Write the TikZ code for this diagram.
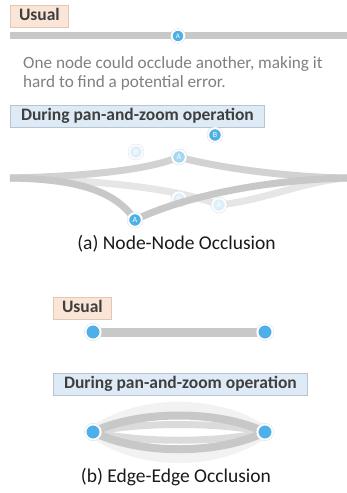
\documentclass[tikz,border=0pt]{standalone}
\usepackage{fontspec}
\setmainfont{Carlito}
\definecolor{usualfill}{HTML}{FBE5D6}
\definecolor{usualline}{HTML}{E3C7B6}
\definecolor{panfill}{HTML}{DEEBF7}
\definecolor{panline}{HTML}{B7C4D2}
\definecolor{titletext}{HTML}{3F3F3F}
\definecolor{notetext}{HTML}{7F7F7F}
\definecolor{captext}{HTML}{1A1A1A}
\definecolor{vertex}{HTML}{4EB0E9}
\definecolor{vertexhalf}{HTML}{A5D6F4}
\definecolor{vertexghost}{HTML}{DDEFFB}
\definecolor{linkdark}{HTML}{C8C8C8}
\definecolor{linkmid}{HTML}{D2D2D2}
\definecolor{linklight}{HTML}{E6E6E6}
\definecolor{linkfaint}{HTML}{F2F2F2}
\pgfdeclarelayer{ghostlinks}
\pgfdeclarelayer{ghostverts}
\pgfdeclarelayer{links}
\pgfsetlayers{ghostlinks,ghostverts,links,main}
\tikzset{
  tag/.style      = {rectangle, thick, anchor=north west, inner sep=0pt,
                     minimum height=22pt, text height=12pt, text depth=3pt,
                     text=titletext, font=\fontsize{17.5}{20}\selectfont\bfseries},
  usualtag/.style = {tag, fill=usualfill, draw=usualline, minimum width=58pt},
  pantag/.style   = {tag, fill=panfill, draw=panline, minimum width=254pt},
  note/.style     = {anchor=base west, inner sep=0pt, text=notetext,
                     font=\fontsize{17.2}{19}\selectfont},
  caption/.style  = {anchor=base, inner sep=0pt, text=captext,
                     font=\fontsize{19.5}{22}\selectfont},
  vert/.style     = {circle, inner sep=0pt, minimum size=13.5pt, fill=vertex,
                     draw=white, line width=1.8pt,
                     preaction={draw=black!13, line width=2.8pt},
                     text=white, font=\fontsize{8}{8}\selectfont},
  halfvert/.style = {vert, fill=vertexhalf},
  ghostvert/.style= {vert, fill=vertexghost},
  bigvert/.style  = {vert, minimum size=15pt, font=\tiny},
  link/.style     = {line width=7pt, draw=linkdark},
  midlink/.style  = {line width=7pt, draw=linkmid},
  ghostlink/.style= {line width=7pt, draw=linklight},
  faintlink/.style= {line width=11pt, draw=linkfaint},
}
\begin{document}
\begin{tikzpicture}[x=1pt, y=-1pt]
  \useasboundingbox (0,0) rectangle (347,493);

  % (a) usual
  \node[usualtag] (usualA) at (10,5) {Usual};
  \coordinate (barL) at (10,35.5);
  \coordinate (barR) at (347,35.5);
  \node[vert, minimum size=12.5pt, font=\fontsize{7}{7}\selectfont] (soloA) at (178,36) {A};
  \begin{pgfonlayer}{links}
    \draw[link, line width=7.5pt] (barL) -- (barR);
  \end{pgfonlayer}
  \node[note] (noteone) at (23,68) {One node could occlude another, making it};
  \node[note] (notetwo) at (23,87) {hard to find a potential error.};

  % (a) during pan-and-zoom
  \node[pantag] (panA) at (10,105) {During pan-and-zoom operation};
  \coordinate (fanL) at (10,178);
  \coordinate (fanR) at (347,178);
  \node[vert] (nodeB) at (215,135) {B};
  \node[halfvert] (midA) at (179,157) {A};
  \node[vert] (lowA) at (135,220) {A};
  \begin{pgfonlayer}{ghostverts}
    \node[ghostvert] (oldB) at (136,152) {B};
    \node[ghostvert] (oldBlow) at (179,199) {B};
    \node[ghostvert] (oldA) at (219,205) {A};
  \end{pgfonlayer}
  \begin{pgfonlayer}{ghostlinks}
    \draw[ghostlink] (fanL) .. controls (100,180) and (180,189) .. (oldA.center);
    \draw[ghostlink] (oldA.center) .. controls (265,200) and (305,181) .. (fanR);
  \end{pgfonlayer}
  \begin{pgfonlayer}{links}
    \draw[midlink] (fanL) .. controls (95,176) and (150,169) .. (midA.center);
    \draw[midlink] (midA.center) .. controls (210,166) and (280,177) .. (fanR);
    \draw[link] (fanL) .. controls (75,179) and (115,190) .. (lowA.center);
    \draw[link] (lowA.center) .. controls (180,198) and (260,180) .. (fanR);
  \end{pgfonlayer}
  \node[caption] (capA) at (176.5,249) {(a) Node-Node Occlusion};

  % (b) usual
  \node[usualtag] (usualB) at (53,297) {Usual};
  \node[bigvert] (barleft) at (93,332) {};
  \node[bigvert] (barright) at (265,332) {};
  \begin{pgfonlayer}{links}
    \draw[link, line width=9pt] (barleft) -- (barright);
  \end{pgfonlayer}

  % (b) during pan-and-zoom
  \node[pantag] (panB) at (53,373) {During pan-and-zoom operation};
  \node[bigvert] (ends1) at (93,432) {};
  \node[bigvert] (ends2) at (265,432) {};
  \begin{pgfonlayer}{ghostlinks}
    \draw[faintlink] (ends1.center) .. controls (140,399) and (218,399) .. (ends2.center);
    \draw[faintlink] (ends1.center) .. controls (140,466) and (218,466) .. (ends2.center);
  \end{pgfonlayer}
  \begin{pgfonlayer}{links}
    \draw[midlink, draw=linkmid!80] (ends1.center) .. controls (140,422) and (218,422) .. (ends2.center);
    \draw[midlink, draw=linkmid!80] (ends1.center) .. controls (140,443) and (218,443) .. (ends2.center);
    \draw[link, line width=8pt] (ends1.center) .. controls (140,410) and (218,410) .. (ends2.center);
    \draw[link, line width=8pt] (ends1.center) .. controls (140,455) and (218,455) .. (ends2.center);
  \end{pgfonlayer}
  \node[caption] (capB) at (176,482) {(b) Edge-Edge Occlusion};
\end{tikzpicture}
\end{document}
